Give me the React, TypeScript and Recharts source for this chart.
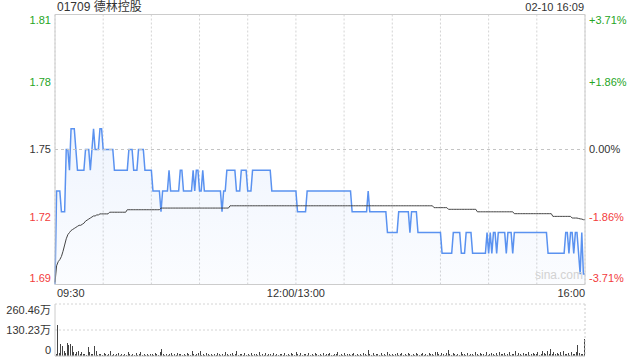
import React from 'react';
import {
  ComposedChart,
  BarChart,
  Area,
  Line,
  Bar,
  XAxis,
  YAxis,
  CartesianGrid,
  ReferenceLine,
} from 'recharts';

// minute-by-minute last price, 09:30 -> 16:00 (lunch removed)
const prices = [
  1.685, 1.73, 1.73, 1.73, 1.72, 1.72, 1.72, 1.75, 1.75, 1.74,
  1.76, 1.76, 1.76, 1.75, 1.74, 1.74, 1.74, 1.74, 1.74, 1.75,
  1.75, 1.75, 1.74, 1.75, 1.76, 1.75, 1.75, 1.75, 1.76, 1.76,
  1.75, 1.75, 1.75, 1.75, 1.75, 1.75, 1.75, 1.74, 1.74, 1.74,
  1.74, 1.74, 1.74, 1.74, 1.74, 1.74, 1.75, 1.75, 1.75, 1.74,
  1.74, 1.74, 1.75, 1.75, 1.75, 1.75, 1.74, 1.74, 1.74, 1.74,
  1.74, 1.73, 1.73, 1.73, 1.73, 1.73, 1.72, 1.73, 1.73, 1.73,
  1.73, 1.74, 1.73, 1.73, 1.73, 1.73, 1.73, 1.73, 1.74, 1.74,
  1.73, 1.73, 1.73, 1.73, 1.73, 1.73, 1.74, 1.73, 1.74, 1.74,
  1.73, 1.73, 1.74, 1.73, 1.73, 1.73, 1.73, 1.73, 1.73, 1.73,
  1.73, 1.73, 1.73, 1.73, 1.72, 1.73, 1.73, 1.74, 1.74, 1.74,
  1.74, 1.74, 1.74, 1.73, 1.73, 1.73, 1.74, 1.74, 1.74, 1.74,
  1.73, 1.73, 1.73, 1.74, 1.74, 1.74, 1.74, 1.74, 1.74, 1.74,
  1.74, 1.74, 1.74, 1.74, 1.74, 1.73, 1.73, 1.73, 1.73, 1.73,
  1.73, 1.73, 1.73, 1.73, 1.73, 1.73, 1.73, 1.73, 1.73, 1.73,
  1.73, 1.72, 1.72, 1.72, 1.72, 1.72, 1.72, 1.73, 1.73, 1.73,
  1.73, 1.73, 1.73, 1.73, 1.73, 1.73, 1.73, 1.73, 1.73, 1.73,
  1.73, 1.73, 1.73, 1.73, 1.73, 1.73, 1.73, 1.73, 1.73, 1.73,
  1.73, 1.73, 1.73, 1.73, 1.73, 1.72, 1.72, 1.72, 1.72, 1.72,
  1.72, 1.72, 1.72, 1.72, 1.72, 1.73, 1.72, 1.72, 1.72, 1.72,
  1.72, 1.72, 1.72, 1.72, 1.72, 1.72, 1.72, 1.71, 1.71, 1.71,
  1.71, 1.71, 1.71, 1.71, 1.72, 1.72, 1.72, 1.72, 1.72, 1.72,
  1.72, 1.71, 1.72, 1.72, 1.72, 1.72, 1.71, 1.71, 1.71, 1.71,
  1.71, 1.71, 1.71, 1.71, 1.71, 1.71, 1.71, 1.71, 1.71, 1.71,
  1.71, 1.70, 1.70, 1.70, 1.70, 1.70, 1.70, 1.70, 1.71, 1.71,
  1.71, 1.71, 1.71, 1.70, 1.70, 1.70, 1.71, 1.71, 1.71, 1.71,
  1.70, 1.70, 1.70, 1.70, 1.70, 1.70, 1.70, 1.70, 1.70, 1.71,
  1.70, 1.71, 1.70, 1.71, 1.71, 1.70, 1.71, 1.71, 1.71, 1.71,
  1.71, 1.70, 1.71, 1.71, 1.71, 1.70, 1.71, 1.71, 1.71, 1.71,
  1.71, 1.71, 1.71, 1.71, 1.71, 1.71, 1.71, 1.71, 1.71, 1.71,
  1.71, 1.71, 1.71, 1.71, 1.71, 1.71, 1.71, 1.70, 1.70, 1.70,
  1.70, 1.70, 1.70, 1.70, 1.70, 1.70, 1.70, 1.70, 1.71, 1.71,
  1.70, 1.71, 1.71, 1.70, 1.71, 1.71, 1.70, 1.69, 1.71, 1.69,
  1.69,
];

// running average price
const avgPrices = [
  1.686, 1.694, 1.696, 1.697, 1.6985, 1.701, 1.704, 1.707, 1.709, 1.71,
  1.711, 1.7115, 1.712, 1.7125, 1.713, 1.7135, 1.7135, 1.714, 1.7145, 1.7155,
  1.716, 1.7165, 1.717, 1.7175, 1.718, 1.718, 1.7185, 1.7185, 1.719, 1.719,
  1.719, 1.719, 1.719, 1.719, 1.7198, 1.7198, 1.7198, 1.7198, 1.7198, 1.7198,
  1.7198, 1.7198, 1.7198, 1.7198, 1.7198, 1.721, 1.721, 1.721, 1.721, 1.721,
  1.721, 1.721, 1.721, 1.721, 1.721, 1.721, 1.721, 1.721, 1.721, 1.721,
  1.721, 1.721, 1.721, 1.721, 1.721, 1.721, 1.7218, 1.7218, 1.7218, 1.7218,
  1.7218, 1.7218, 1.7218, 1.7218, 1.7218, 1.7218, 1.7218, 1.7218, 1.7218, 1.7218,
  1.7218, 1.7218, 1.7218, 1.7218, 1.7218, 1.7218, 1.7218, 1.7218, 1.7218, 1.7218,
  1.7218, 1.7218, 1.7218, 1.7218, 1.7218, 1.7218, 1.7218, 1.7218, 1.7218, 1.7218,
  1.7218, 1.7218, 1.7218, 1.7218, 1.7218, 1.7218, 1.7218, 1.7218, 1.7218, 1.7229,
  1.7229, 1.7229, 1.7229, 1.7229, 1.7229, 1.7229, 1.7229, 1.7229, 1.7229, 1.7229,
  1.7229, 1.7229, 1.7229, 1.7229, 1.7229, 1.7229, 1.7229, 1.7229, 1.7229, 1.7229,
  1.7229, 1.7229, 1.7229, 1.7229, 1.7229, 1.7229, 1.7229, 1.7229, 1.7229, 1.7229,
  1.7229, 1.7229, 1.7229, 1.7229, 1.7229, 1.7229, 1.7229, 1.7229, 1.7229, 1.7229,
  1.7229, 1.7229, 1.7229, 1.7229, 1.7229, 1.7229, 1.7229, 1.7229, 1.7229, 1.7229,
  1.7229, 1.7229, 1.7229, 1.7229, 1.7229, 1.7229, 1.7229, 1.7229, 1.7229, 1.7229,
  1.7229, 1.7229, 1.7229, 1.7229, 1.7229, 1.7229, 1.7229, 1.7229, 1.7229, 1.7229,
  1.7229, 1.7229, 1.7229, 1.7229, 1.7229, 1.7229, 1.7229, 1.7229, 1.7229, 1.7229,
  1.7229, 1.7229, 1.7229, 1.7229, 1.7229, 1.7229, 1.7229, 1.7229, 1.7229, 1.7229,
  1.7229, 1.7229, 1.7229, 1.7229, 1.7229, 1.7229, 1.7229, 1.7229, 1.7229, 1.7229,
  1.7229, 1.7229, 1.7229, 1.7229, 1.7229, 1.7229, 1.7229, 1.7229, 1.7229, 1.7229,
  1.7229, 1.7229, 1.7229, 1.7229, 1.7229, 1.7229, 1.7229, 1.7229, 1.7229, 1.7229,
  1.7229, 1.7229, 1.7229, 1.7229, 1.7229, 1.7229, 1.722, 1.722, 1.722, 1.722,
  1.722, 1.722, 1.722, 1.722, 1.722, 1.7212, 1.7212, 1.7212, 1.7212, 1.7212,
  1.7212, 1.7212, 1.7212, 1.7212, 1.7212, 1.7212, 1.7212, 1.7212, 1.7212, 1.7212,
  1.7212, 1.7212, 1.7212, 1.72, 1.72, 1.72, 1.72, 1.72, 1.72, 1.72,
  1.72, 1.72, 1.72, 1.72, 1.72, 1.72, 1.72, 1.72, 1.72, 1.72,
  1.72, 1.72, 1.72, 1.72, 1.72, 1.72, 1.7191, 1.7191, 1.7191, 1.7191,
  1.7191, 1.7191, 1.7191, 1.7191, 1.7191, 1.7191, 1.7191, 1.7191, 1.7191, 1.7191,
  1.7191, 1.7191, 1.7191, 1.7191, 1.7191, 1.7191, 1.7191, 1.7191, 1.7191, 1.7191,
  1.7178, 1.7178, 1.7178, 1.7178, 1.7178, 1.7178, 1.7178, 1.7178, 1.7178, 1.7178,
  1.7178, 1.7178, 1.717, 1.717, 1.717, 1.717, 1.7168, 1.7166, 1.7165, 1.7162,
  1.7162,
];

// volume per minute, in 万
const volumes = [
  8, 157, 14, 61, 52, 25, 16, 67, 54, 61,
  49, 22, 12, 18, 24, 9, 20, 8, 12, 6,
  47, 20, 8, 9, 49, 24, 6, 9, 8, 6,
  15, 8, 6, 9, 25, 6, 12, 5, 8, 15,
  6, 9, 5, 12, 6, 18, 8, 5, 9, 6,
  15, 5, 8, 20, 6, 9, 5, 12, 6, 8,
  12, 6, 15, 8, 5, 18, 35, 9, 6, 12,
  5, 8, 15, 6, 9, 5, 16, 8, 12, 6,
  9, 5, 15, 8, 6, 25, 12, 5, 8, 14,
  25, 6, 9, 5, 15, 8, 6, 12, 5, 9,
  6, 16, 8, 5, 12, 6, 20, 9, 5, 8,
  15, 6, 9, 25, 5, 12, 8, 6, 14, 5,
  9, 6, 15, 5, 8, 12, 6, 18, 5, 9,
  6, 14, 5, 8, 12, 6, 15, 5, 9, 6,
  12, 8, 5, 16, 6, 9, 5, 14, 8, 6,
  20, 9, 6, 15, 5, 12, 8, 6, 14, 5,
  9, 6, 16, 8, 5, 12, 6, 15, 5, 9,
  8, 14, 6, 5, 12, 8, 18, 6, 9, 5,
  15, 6, 8, 12, 5, 9, 16, 6, 8, 5,
  12, 6, 15, 8, 5, 28, 9, 6, 14, 5,
  8, 12, 6, 15, 5, 9, 6, 18, 8, 5,
  12, 6, 9, 15, 5, 8, 14, 6, 9, 5,
  15, 8, 6, 12, 5, 16, 9, 6, 8, 14,
  5, 9, 6, 15, 8, 12, 5, 18, 22, 9,
  6, 14, 8, 5, 16, 30, 9, 6, 15, 8,
  5, 12, 6, 18, 8, 9, 5, 15, 6, 12,
  8, 5, 20, 9, 6, 15, 8, 12, 5, 18,
  6, 9, 16, 8, 5, 14, 6, 20, 9, 8,
  15, 6, 12, 18, 5, 9, 8, 24, 6, 14,
  9, 5, 16, 8, 12, 20, 6, 9, 15, 8,
  12, 18, 6, 9, 24, 15, 8, 26, 12, 34,
  9, 20, 8, 15, 12, 18, 6, 26, 9, 8,
  14, 6, 18, 12, 8, 20, 55, 15, 9, 8,
  85,
];

const prevClose = 1.75;
const priceTicks = [1.685, 1.7175, 1.75, 1.7825, 1.815];
const priceTickLabels = ['1.69', '1.72', '1.75', '1.78', '1.81'];
const pctTickLabels = ['-3.71%', '-1.86%', '0.00%', '+1.86%', '+3.71%'];
const gridMinutes = [0, 30, 60, 90, 120, 150, 180, 210, 240, 270, 300, 330];
const timeLabelMinutes = [0, 150, 330];
const timeLabels = ['09:30', '12:00/13:00', '16:00'];
const volTicks = [0, 130.23, 260.46];
const volTickLabels = ['0', '130.23万', '260.46万'];

const UP = '#25a525';
const DOWN = '#f23c3c';
const FLAT = '#333';
const FONT = 'Arial, "Liberation Sans", "Noto Sans CJK SC", sans-serif';

const priceRows = prices.map((p, i) => ({ i, price: p, avg: avgPrices[i] }));
const volRows = volumes.map((v, i) => ({ i, vol: v }));

function tickColor(v: number) {
  if (Math.abs(v - prevClose) < 1e-6) return FLAT;
  return v > prevClose ? UP : DOWN;
}

function edgeShift(idx: number, count: number) {
  if (idx === 0) return -6;
  if (idx === count - 1) return 6;
  return 0;
}

function PriceTick(props: any) {
  const { x, y, payload } = props;
  const idx = priceTicks.indexOf(payload.value);
  return (
    <text x={x} y={y + edgeShift(idx, priceTicks.length)} dy="0.35em" textAnchor="end"
      fill={tickColor(payload.value)} fontSize={11} fontFamily={FONT}>
      {priceTickLabels[idx]}
    </text>
  );
}

function PctTick(props: any) {
  const { x, y, payload } = props;
  const idx = priceTicks.indexOf(payload.value);
  return (
    <text x={x} y={y + edgeShift(idx, priceTicks.length)} dy="0.35em" textAnchor="start"
      fill={tickColor(payload.value)} fontSize={11} fontFamily={FONT}>
      {pctTickLabels[idx]}
    </text>
  );
}

function TimeTick(props: any) {
  const { x, y, payload } = props;
  const idx = timeLabelMinutes.indexOf(payload.value);
  if (idx < 0) return null;
  const anchor = idx === 0 ? 'start' : idx === timeLabels.length - 1 ? 'end' : 'middle';
  return (
    <text x={x + (idx === 0 ? 2 : 0)} y={y} dy="0.71em" textAnchor={anchor}
      fill="#333" fontSize={11} fontFamily={FONT}>
      {timeLabels[idx]}
    </text>
  );
}

function VolTick(props: any) {
  const { x, y, payload } = props;
  const idx = volTicks.indexOf(payload.value);
  return (
    <text x={x} y={y + edgeShift(idx, volTicks.length)} dy="0.35em" textAnchor="end"
      fill="#333" fontSize={11} fontFamily={FONT}>
      {volTickLabels[idx]}
    </text>
  );
}

function VolBar(props: any) {
  const { x, y, width, height } = props;
  if (!height || height <= 0) return null;
  return (
    <rect x={Math.round(x + width / 2 - 0.5)} y={y} width={1} height={height}
      fill="#444" shapeRendering="crispEdges" />
  );
}

export default function App() {
  return (
    <div style={{ position: 'absolute', left: 0, top: 0, width: 640, height: 360, background: '#fff', fontFamily: FONT }}>
      <div style={{ position: 'absolute', left: 57, top: 0, fontSize: 12, color: '#333', lineHeight: '15px' }}>
        01709 德林控股
      </div>
      <div style={{ position: 'absolute', right: 56, top: 0, fontSize: 11, color: '#333', lineHeight: '15px' }}>
        02-10 16:09
      </div>

      <div style={{ position: 'absolute', left: 0, top: 0 }}>
        <ComposedChart width={640} height={302} data={priceRows}
          margin={{ top: 14.5, right: 0, bottom: 0, left: 0 }}>
          <defs>
            <linearGradient id="priceFill" x1="0" y1="0" x2="0" y2="1">
              <stop offset="0%" stopColor="#5a92f0" stopOpacity={0.16} />
              <stop offset="100%" stopColor="#5a92f0" stopOpacity={0.04} />
            </linearGradient>
          </defs>
          <CartesianGrid stroke="#d4d4d4" strokeDasharray="2 2" />
          <XAxis dataKey="i" type="number" domain={[0, 330]} ticks={gridMinutes} interval={0}
            height={17.5} tickSize={0} tickMargin={5} tick={<TimeTick />}
            axisLine={{ stroke: '#ccc' }} tickLine={false} />
          <YAxis yAxisId="p" orientation="left" width={55} domain={[1.685, 1.815]}
            ticks={priceTicks} interval={0} allowDataOverflow tickSize={0} tickMargin={4}
            tick={<PriceTick />} axisLine={{ stroke: '#ccc' }} tickLine={false} />
          <YAxis yAxisId="r" orientation="right" width={55} domain={[1.685, 1.815]}
            ticks={priceTicks} interval={0} allowDataOverflow tickSize={0} tickMargin={4}
            tick={<PctTick />} axisLine={{ stroke: '#ccc' }} tickLine={false} />
          <ReferenceLine yAxisId="p" y={1.815} stroke="#ccc" />
          <ReferenceLine yAxisId="p" y={prevClose} stroke="#c4c4c4" strokeDasharray="3 3" />
          <Area yAxisId="p" type="linear" dataKey="price" stroke="#5a92f0" strokeWidth={1.5}
            fill="url(#priceFill)" baseValue={1.685} dot={false} activeDot={false}
            isAnimationActive={false} />
          <Line yAxisId="p" type="linear" dataKey="avg" stroke="#444" strokeWidth={1}
            dot={false} activeDot={false} isAnimationActive={false} />
        </ComposedChart>
      </div>

      <div style={{ position: 'absolute', left: 535, top: 268, fontSize: 12, color: '#d2d2d2' }}>
        sina.com
      </div>

      <div style={{ position: 'absolute', left: 0, top: 300 }}>
        <BarChart width={640} height={60} data={volRows} barCategoryGap={0}
          margin={{ top: 4, right: 0, bottom: 4, left: 0 }}>
          <CartesianGrid vertical={false} stroke="#d4d4d4" strokeDasharray="2 2" />
          <XAxis dataKey="i" hide />
          <YAxis width={55} domain={[0, 260.46]} ticks={volTicks} interval={0}
            tickSize={0} tickMargin={4} tick={<VolTick />}
            axisLine={{ stroke: '#ccc' }} tickLine={false} />
          <YAxis yAxisId="vr" orientation="right" width={55} tick={false}
            axisLine={{ stroke: '#ccc', strokeDasharray: '2 2' }} tickLine={false} />
          <ReferenceLine y={0} stroke="#ccc" />
          <Bar dataKey="vol" shape={<VolBar />} isAnimationActive={false} />
        </BarChart>
      </div>
    </div>
  );
}
